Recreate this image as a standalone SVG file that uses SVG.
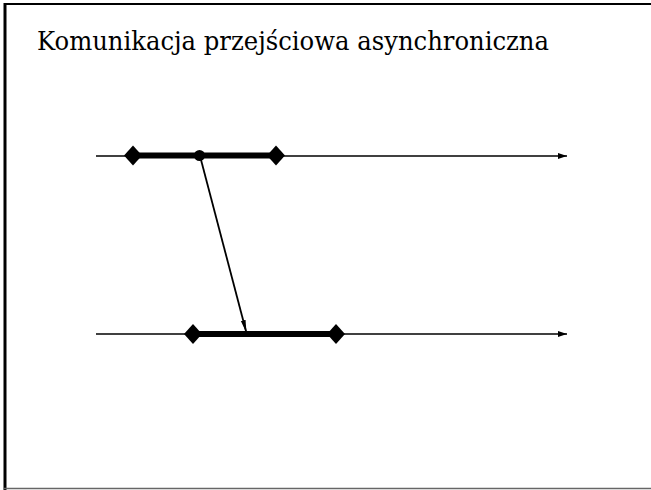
<svg xmlns="http://www.w3.org/2000/svg" width="651" height="490" viewBox="0 0 651 490">
<style>
.axis{stroke:#000;stroke-width:1.3;fill:none}
.act{stroke:#000;stroke-width:6;fill:none}
.dia{fill:#000}
.msg{stroke:#000;stroke-width:1.8;fill:none}
.title{font-family:"DejaVu Serif","Liberation Serif",serif;font-size:26px;fill:#000}
</style>
<defs>
<marker id="ah" markerUnits="userSpaceOnUse" markerWidth="10" markerHeight="6" refX="9" refY="3" orient="auto">
<path d="M0,0 L9,3 L0,6 z" fill="#000"/>
</marker>
<marker id="ah2" markerUnits="userSpaceOnUse" markerWidth="14" markerHeight="6" refX="13" refY="3" orient="auto">
<path d="M0,0.6 L13,3 L0,5.4 z" fill="#000"/>
</marker>
<path id="d" d="M0,-10 L9,0 L0,10 L-9,0 z"/>
</defs>
<rect width="651" height="490" fill="#fff"/>
<g id="frame">
<line x1="4" y1="4" x2="651" y2="4" stroke="#000" stroke-width="2"/>
<line x1="5" y1="3" x2="5" y2="490" stroke="#000" stroke-width="3"/>
<line x1="4" y1="488.5" x2="651" y2="488.5" stroke="#666" stroke-width="1.5"/>
</g>
<text class="title" x="37" y="50" textLength="512" lengthAdjust="spacingAndGlyphs">Komunikacja przejściowa asynchroniczna</text>
<g id="connectors">
<line class="axis" x1="96" y1="156" x2="567" y2="156" marker-end="url(#ah)"/>
<line class="axis" x1="96" y1="334" x2="567" y2="334" marker-end="url(#ah)"/>
<line class="msg" x1="200" y1="156" x2="246.5" y2="333" marker-end="url(#ah2)"/>
</g>
<g id="p1">
<line class="act" x1="133" y1="155.5" x2="276" y2="155.5"/>
<use href="#d" class="dia" x="133" y="155.5"/>
<use href="#d" class="dia" x="276" y="155.5"/>
<circle cx="199.5" cy="155.5" r="5.5" fill="#000"/>
</g>
<g id="p2">
<line class="act" x1="193" y1="334" x2="336" y2="334"/>
<use href="#d" class="dia" x="193" y="334"/>
<use href="#d" class="dia" x="336" y="334"/>
</g>
</svg>
